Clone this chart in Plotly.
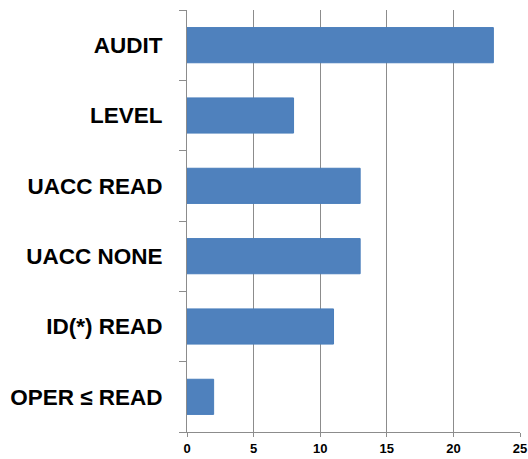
import plotly.graph_objects as go

categories = ["AUDIT", "LEVEL", "UACC READ", "UACC NONE", "ID(*) READ", "OPER ≤ READ"]
values = [23, 8, 13, 13, 11, 2]
x_ticks = [0, 5, 10, 15, 20, 25]

fig = go.Figure(go.Bar(
    y=categories, x=values, orientation="h",
    marker=dict(color="#4F81BD", line=dict(color="#4A7EBB", width=1)),
    width=0.5,
))

fig.update_layout(
    width=528, height=459,
    margin=dict(l=187, r=8, t=10, b=27),
    paper_bgcolor="white", plot_bgcolor="white",
    showlegend=False,
    font=dict(family="Liberation Sans", color="black"),
)
fig.update_xaxes(
    range=[0, 25], tickvals=x_ticks, ticktext=[str(t) for t in x_ticks],
    showgrid=True, gridcolor="#8c8c8c", gridwidth=1,
    showline=True, linecolor="#8c8c8c", linewidth=1,
    ticks="outside", ticklen=4, tickcolor="#8c8c8c",
    tickfont=dict(family="Liberation Sans", size=13, color="black", weight="bold"),
    zeroline=False, automargin=False,
)
fig.update_yaxes(
    categoryorder="array", categoryarray=categories[::-1],
    showline=True, linecolor="#8c8c8c", linewidth=1,
    ticks="outside", ticklen=7, tickcolor="#8c8c8c", tickson="boundaries",
    ticklabelstandoff=19, automargin=False,
    tickfont=dict(family="Liberation Sans", size=22.5, color="black", weight="bold"),
    showgrid=False,
)
fig.write_html(
    "out.html",
    config={"displayModeBar": False},
    post_script="document.body.style.margin='0';document.body.style.overflow='hidden';",
)
